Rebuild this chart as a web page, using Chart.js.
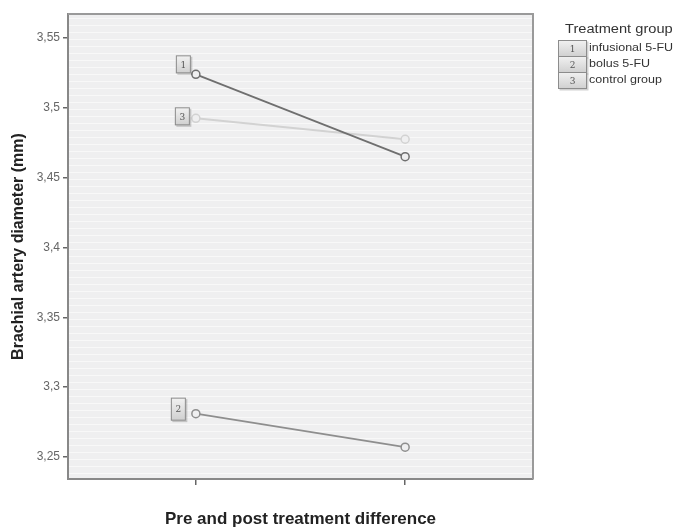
<!DOCTYPE html>
<html>
<head>
<meta charset="utf-8">
<script src="https://cdn.jsdelivr.net/npm/chart.js@4"></script>
<style>
    html, body { margin: 0; padding: 0; background: #fff; }
    #wrap { width: 675px; height: 528px; }
</style>
</head>
<body>
<div id="wrap"><canvas id="profileChart" width="675" height="528"></canvas></div>
<script>
// values
const phases = ['Pre', 'Post'];
const groupNumbers = ['1', '2', '3'];
const groupLabels = ['infusional 5-FU', 'bolus 5-FU', 'control group'];
const infusional = [3.524, 3.465];
const bolus = [3.281, 3.257];
const control = [3.4925, 3.4775];
const yTicks = [3.25, 3.3, 3.35, 3.4, 3.45, 3.5, 3.55];

const FONT = '"Liberation Sans", Arial, sans-serif';

// small number boxes next to the first point (offsets from the point)
const boxOffsets = [[-20, -19], [-25, -16], [-21, -11]];

function toPoints(values) {
    return values.map(function(v, i) { return { x: i, y: v }; });
}

function drawNumberBox(ctx, x, y, w, h, txt) {
    ctx.save();
    ctx.fillStyle = 'rgba(0,0,0,0.18)';
    ctx.fillRect(x + 1.5, y + 1.5, w, h);
    const g = ctx.createLinearGradient(x, y, x, y + h);
    g.addColorStop(0, '#f2f2f2');
    g.addColorStop(1, '#cfcfcf');
    ctx.fillStyle = g;
    ctx.fillRect(x, y, w, h);
    ctx.strokeStyle = '#8c8c8c';
    ctx.lineWidth = 1;
    ctx.strokeRect(x + 0.5, y + 0.5, w - 1, h - 1);
    ctx.fillStyle = '#555';
    ctx.font = '9px "DejaVu Serif", "Liberation Serif", serif';
    ctx.textAlign = 'center';
    ctx.textBaseline = 'middle';
    ctx.fillText(txt, x + w / 2, y + h / 2 + 1);
    ctx.restore();
}

// text a bit stretched sideways, like the scanned original
function stretchedText(ctx, txt, x, y, font, sx) {
    ctx.save();
    ctx.translate(x, y);
    ctx.scale(sx, 1);
    ctx.fillStyle = '#333';
    ctx.font = font;
    ctx.textAlign = 'left';
    ctx.textBaseline = 'middle';
    ctx.fillText(txt, 0, 0);
    ctx.restore();
}

const plotDecor = {
    id: 'plotDecor',
    beforeDraw: function(chart) {
        const a = chart.chartArea;
        const ctx = chart.ctx;
        ctx.save();
        ctx.fillStyle = '#efeff0';
        ctx.fillRect(a.left, a.top, a.right - a.left, a.bottom - a.top);
        ctx.strokeStyle = 'rgba(255,255,255,0.55)';
        ctx.lineWidth = 1;
        for (let y = a.top + 4; y < a.bottom; y += 7) {
            ctx.beginPath();
            ctx.moveTo(a.left, y + 0.5);
            ctx.lineTo(a.right, y + 0.5);
            ctx.stroke();
        }
        ctx.restore();
    },
    afterDraw: function(chart) {
        const a = chart.chartArea;
        const ctx = chart.ctx;
        ctx.save();
        ctx.strokeStyle = '#9a9a9a';
        ctx.lineWidth = 2;
        ctx.beginPath();
        ctx.moveTo(a.left, a.top);
        ctx.lineTo(a.right, a.top);
        ctx.lineTo(a.right, a.bottom);
        ctx.stroke();
        ctx.restore();

        // number labels beside the first point of each line
        chart.data.datasets.forEach(function(ds, i) {
            const pt = chart.getDatasetMeta(i).data[0];
            const off = boxOffsets[i];
            drawNumberBox(ctx, pt.x + off[0], pt.y + off[1], 15, i === 1 ? 23 : 18, groupNumbers[i]);
        });

        // legend on the right
        stretchedText(ctx, 'Treatment group', 565, 30, '12px ' + FONT, 1.22);
        const rowY = [40, 56, 72];
        chart.data.datasets.forEach(function(ds, i) {
            drawNumberBox(ctx, 558, rowY[i], 29, 17, groupNumbers[i]);
            stretchedText(ctx, ds.label, 589, rowY[i] + 8, '10px ' + FONT, 1.25);
        });
    }
};

const lineColors = ['#6f6f6f', '#8e8e8e', '#d2d2d2'];
const series = [infusional, bolus, control];

new Chart(document.getElementById('profileChart').getContext('2d'), {
    type: 'line',
    data: {
        labels: phases,
        datasets: series.map(function(vals, i) {
            return {
                label: groupLabels[i],
                data: toPoints(vals),
                borderColor: lineColors[i],
                borderWidth: i === 2 ? 2 : 1.8,
                pointRadius: 4,
                pointBorderWidth: 1.5,
                pointBackgroundColor: '#efeff0',
                pointBorderColor: lineColors[i],
                fill: false,
                tension: 0
            };
        })
    },
    options: {
        responsive: false,
        animation: false,
        layout: { padding: { top: 14, right: 142, left: 0, bottom: 0 } },
        plugins: {
            legend: { display: false },
            tooltip: { enabled: false }
        },
        scales: {
            x: {
                type: 'linear',
                min: -0.611,
                max: 1.611,
                afterBuildTicks: function(scale) {
                    scale.ticks = phases.map(function(p, i) { return { value: i }; });
                },
                afterFit: function(scale) { scale.height = 49; },
                ticks: { callback: function() { return ''; } },
                grid: { drawOnChartArea: false, tickLength: 6, color: '#666', lineWidth: 1.5 },
                border: { display: true, color: '#888', width: 2 },
                title: {
                    display: true,
                    text: 'Pre and post treatment difference',
                    color: '#222',
                    font: { family: FONT, size: 17, weight: 'bold', lineHeight: 1 },
                    padding: { top: 0, bottom: 0 }
                }
            },
            y: {
                min: 3.2342,
                max: 3.5672,
                afterBuildTicks: function(scale) {
                    scale.ticks = yTicks.map(function(v) { return { value: v }; });
                },
                afterFit: function(scale) { scale.width = 68; },
                ticks: {
                    color: '#666',
                    padding: 3,
                    font: { family: FONT, size: 12 },
                    callback: function(v) { return String(v).replace('.', ','); }
                },
                grid: { drawOnChartArea: false, tickLength: 5, color: '#666', lineWidth: 1.5 },
                border: { display: true, color: '#888', width: 2 },
                title: {
                    display: true,
                    text: 'Brachial artery diameter (mm)',
                    color: '#222',
                    font: { family: FONT, size: 16, weight: 'bold', lineHeight: 1 },
                    padding: { top: 11, bottom: 0 }
                }
            }
        }
    },
    plugins: [plotDecor]
});
</script>
</body>
</html>
